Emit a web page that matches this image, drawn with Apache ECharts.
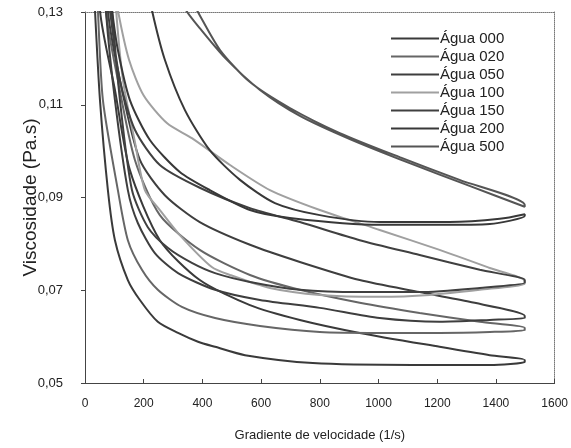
<!DOCTYPE html>
<html><head><meta charset="utf-8">
<script src="https://cdn.jsdelivr.net/npm/echarts@6/dist/echarts.min.js"></script>
<style>html,body{margin:0;padding:0;background:#fff}#c{width:571px;height:448px}</style>
</head><body><div id="c"></div>
<script>
// Tick labels
const xTicks = [0,200,400,600,800,1000,1200,1400,1600];
const yTicks = [0.05,0.07,0.09,0.11,0.13];
const seriesNames = ['Água 000','Água 020','Água 050','Água 100','Água 150','Água 200','Água 500'];

// Each series: loop = up-ramp branch then down-ramp branch, [shear rate (1/s), viscosity (Pa.s)]
const agua000Up = [[50,0.1337],[51,0.1304],[102,0.1132],[153,0.0959],[255,0.0808],[391,0.0722],[562,0.0668],[732,0.0636],[936,0.0608],[1208,0.0578],[1379,0.0560],[1498,0.0550]];
const agua000Down = [[1498,0.0545],[1379,0.0539],[1117,0.0539],[776,0.0543],[545,0.0560],[443,0.0578],[385,0.0589],[317,0.0608],[248,0.0632],[187,0.0679],[146,0.0722],[102,0.0808],[78,0.0916],[51,0.1110],[34,0.1304],[33,0.1337]];

const agua020Up = [[70,0.1337],[71,0.1304],[112,0.1153],[170,0.0981],[255,0.0862],[391,0.0787],[562,0.0733],[732,0.0701],[936,0.0673],[1140,0.0651],[1345,0.0632],[1498,0.0619]];
const agua020Down = [[1498,0.0614],[1379,0.0610],[1208,0.0608],[1004,0.0608],[800,0.0610],[596,0.0623],[443,0.0640],[330,0.0664],[248,0.0701],[194,0.0744],[146,0.0808],[112,0.0916],[61,0.1110],[44,0.1304],[43,0.1337]];

const agua050Up = [[77,0.1337],[78,0.1304],[126,0.1132],[187,0.0981],[272,0.0905],[391,0.0847],[562,0.0798],[732,0.0761],[936,0.0722],[1140,0.0696],[1310,0.0675],[1498,0.0645]];
const agua050Down = [[1498,0.0640],[1379,0.0636],[1208,0.0632],[1004,0.0640],[800,0.0662],[596,0.0679],[443,0.0701],[317,0.0737],[238,0.0780],[180,0.0845],[146,0.0916],[102,0.1110],[71,0.1304],[70,0.1337]];

const agua100Up = [[108,0.1337],[112,0.1304],[150,0.1197],[200,0.1120],[280,0.1060],[364,0.1028],[494,0.0970],[630,0.0916],[800,0.0873],[1004,0.0830],[1208,0.0787],[1379,0.0748],[1498,0.0720]];
const agua100Down = [[1498,0.0714],[1345,0.0701],[1174,0.0690],[1004,0.0686],[800,0.0690],[630,0.0705],[494,0.0733],[432,0.0750],[323,0.0819],[255,0.0873],[204,0.0916],[170,0.1020],[130,0.1150],[106,0.1304],[105,0.1337]];

const agua150Up = [[83,0.1337],[85,0.1304],[119,0.1153],[170,0.1046],[255,0.0970],[391,0.0921],[562,0.0877],[732,0.0847],[936,0.0808],[1140,0.0776],[1345,0.0744],[1498,0.0722]];
const agua150Down = [[1498,0.0716],[1345,0.0705],[1140,0.0696],[936,0.0696],[732,0.0701],[562,0.0718],[443,0.0737],[364,0.0759],[283,0.0791],[214,0.0836],[160,0.0916],[119,0.1110],[92,0.1304],[90,0.1337]];

const agua200Up = [[222,0.1337],[228,0.1304],[272,0.1197],[340,0.1089],[425,0.1002],[528,0.0938],[647,0.0888],[800,0.0862],[1004,0.0847],[1242,0.0847],[1413,0.0854],[1498,0.0864]];
const agua200Down = [[1498,0.0860],[1379,0.0843],[1208,0.0841],[1004,0.0841],[698,0.0856],[562,0.0873],[425,0.0916],[323,0.0955],[221,0.1024],[153,0.1110],[112,0.1218],[92,0.1304],[88,0.1337]];

const agua500Up = [[351,0.1337],[381,0.1304],[460,0.1218],[562,0.1149],[698,0.1093],[868,0.1039],[1072,0.0987],[1276,0.0938],[1498,0.0884]];
const agua500Down = [[1498,0.0880],[1310,0.0925],[1106,0.0974],[902,0.1026],[732,0.1076],[596,0.1132],[477,0.1201],[391,0.1265],[344,0.1304],[323,0.1337]];

const loops = [
  [agua000Up, agua000Down],
  [agua020Up, agua020Down],
  [agua050Up, agua050Down],
  [agua100Up, agua100Down],
  [agua150Up, agua150Down],
  [agua200Up, agua200Down],
  [agua500Up, agua500Down]
];
const colors = ['#3a3a3a','#666666','#3e3e3e','#a0a0a0','#404040','#383838','#555555'];

const font = 'Liberation Sans, Arial, sans-serif';
const chart = echarts.init(document.getElementById('c'), null, {renderer:'canvas'});
const fmt = v => v.toFixed(2).replace('.', ',');

chart.setOption({
  animation: false,
  backgroundColor: '#fff',
  color: colors,
  grid: {left: 85, right: 16, top: 12, bottom: 65, show: false},
  legend: {
    data: seriesNames.map(n => ({name: n, icon: 'rect'})),
    orient: 'vertical', left: 386, top: 26,
    itemWidth: 48, itemHeight: 2, itemGap: 3,
    textStyle: {fontFamily: font, fontSize: 15, color: '#222', padding: [0,0,0,-4]}
  },
  xAxis: [{
    type: 'value', min: 0, max: 1600, interval: 200,
    name: 'Gradiente de velocidade (1/s)', nameLocation: 'middle', nameGap: 46,
    nameTextStyle: {fontFamily: font, fontSize: 13, color: '#222'},
    axisLine: {lineStyle: {color: '#444', width: 1}},
    axisTick: {inside: true, length: 4, lineStyle: {color: '#444'}},
    axisLabel: {fontFamily: font, fontSize: 12, color: '#222', margin: 15,
      formatter: v => xTicks.includes(v) ? String(v) : ''},
    splitLine: {show: false}
  }, {
    type: 'value', position: 'top', min: 0, max: 1600,
    axisLine: {show: true, onZero: false, lineStyle: {color: '#777', type: 'dotted', width: 1}},
    axisTick: {show: false}, axisLabel: {show: false}, splitLine: {show: false}
  }],
  yAxis: [{
    type: 'value', min: 0.05, max: 0.13, interval: 0.02,
    name: 'Viscosidade (Pa.s)', nameLocation: 'middle', nameGap: 45, nameMoveOverlap: false,
    nameTextStyle: {fontFamily: font, fontSize: 19, color: '#222'},
    axisLine: {show: true, lineStyle: {color: '#444', width: 1}},
    axisTick: {show: true, length: 4, lineStyle: {color: '#444'}},
    axisLabel: {fontFamily: font, fontSize: 13, color: '#222', margin: 22, formatter: v => fmt(v)},
    splitLine: {show: false}
  }, {
    type: 'value', position: 'right', min: 0.05, max: 0.13,
    axisLine: {show: true, onZero: false, lineStyle: {color: '#777', type: 'dotted', width: 1}},
    axisTick: {show: false}, axisLabel: {show: false}, splitLine: {show: false}
  }],
  series: loops.map((l, i) => ({
    name: seriesNames[i], type: 'line', xAxisIndex: 0, yAxisIndex: 0,
    data: l[0].concat(l[1]), showSymbol: false, smooth: 0.25, clip: true,
    lineStyle: {width: 2, color: colors[i]}, itemStyle: {color: colors[i]}
  }))
});
</script></body></html>
